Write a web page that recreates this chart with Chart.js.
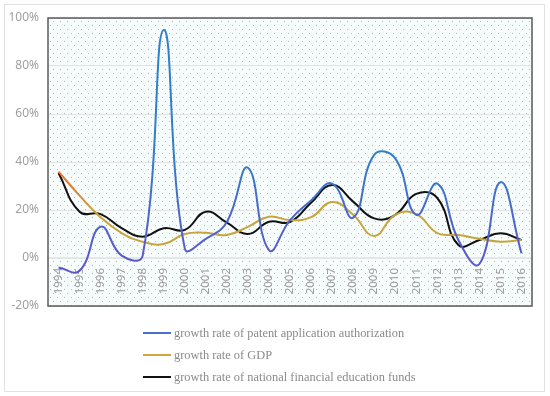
<!DOCTYPE html>
<html>
<head>
<meta charset="utf-8">
<script src="https://cdn.jsdelivr.net/npm/chart.js@4/dist/chart.umd.min.js"></script>
<style>
  html, body { margin: 0; padding: 0; background: #fff; }
  #wrap { position: relative; width: 550px; height: 396px; }
  #frame { position: absolute; left: 4px; top: 4px; width: 541px; height: 388px; border: 1px solid #e2e2e2; box-sizing: border-box; pointer-events: none; }
  #legend { position: absolute; left: 143px; top: 322px; font-family: "Liberation Serif", "DejaVu Serif", serif; font-size: 12.4px; color: #8a8a8a; }
  .li { display: flex; align-items: center; height: 22px; }
  .sw { width: 28px; height: 2px; margin-right: 3px; }
</style>
</head>
<body>
<div id="wrap">
  <canvas id="c" width="550" height="396"></canvas>
  <div id="frame"></div>
  <div id="legend"></div>
</div>
<script>
const years = ["1994","1995","1996","1997","1998","1999","2000","2001","2002","2003","2004","2005","2006","2007","2008","2009","2010","2011","2012","2013","2014","2015","2016"];
const patentGrowth = [-4, -5.3, 13, 1, 1, 95, 4, 8, 15, 37.6, 3.3, 15.8, 24, 31, 16.8, 43, 41.5, 18, 31, 7.5, -2.5, 31.6, 2];
const gdpGrowth = [36, 26, 17, 10.4, 6.8, 5.8, 10, 10.5, 9.6, 13, 17.2, 15.8, 17, 23.3, 18, 9.2, 18, 18.3, 10.4, 9.6, 8, 6.8, 7.5];
const eduFundGrowth = [35.4, 19.3, 18.3, 12.4, 8.9, 12.4, 11.7, 19.3, 14.7, 10, 15.1, 15, 23, 30.4, 23.5, 16.5, 18, 26.7, 25, 5.4, 7.5, 10.3, 7.5];
const yTicks = [-20, 0, 20, 40, 60, 80, 100];
const seriesNames = ["growth rate of patent application authorization", "growth rate of GDP", "growth rate of national financial education funds"];
const legendColors = ["#4f6fcf", "#d2a43c", "#111111"];

function blueGrad(ctx) {
  const ch = ctx.chart; const a = ch.chartArea;
  if (!a) return "#3a7bc8";
  const y = ch.scales.y;
  const g = ch.ctx.createLinearGradient(0, y.getPixelForValue(45), 0, y.getPixelForValue(0));
  g.addColorStop(0, "#2f80c8");
  g.addColorStop(1, "#5c58cc");
  return g;
}
function gdpGrad(ctx) {
  const ch = ctx.chart; const a = ch.chartArea;
  if (!a) return "#c9a33c";
  const x = ch.scales.x;
  const g = ch.ctx.createLinearGradient(x.getPixelForValue(0), 0, x.getPixelForValue(2), 0);
  g.addColorStop(0, "#ee7030");
  g.addColorStop(1, "#c6a63c");
  return g;
}

const bgPlugin = {
  id: "bgPattern",
  beforeDraw(chart) {
    const {ctx, chartArea: a} = chart;
    const t = document.createElement("canvas");
    t.width = 7; t.height = 8;
    const tc = t.getContext("2d");
    tc.fillStyle = "#f7fcfd"; tc.fillRect(0, 0, 7, 8);
    tc.fillStyle = "#8fc3d6";
    tc.fillRect(1, 1, 1, 1);
    tc.fillRect(4, 5, 1, 1);
    ctx.save();
    const pat = ctx.createPattern(t, "repeat");
    ctx.fillStyle = pat;
    ctx.fillRect(a.left, a.top, a.right - a.left, a.bottom - a.top);
    ctx.restore();
  },
  afterDraw(chart) {
    const {ctx, chartArea: a} = chart;
    ctx.save();
    ctx.strokeStyle = "#5a5a5a";
    ctx.lineWidth = 1.5;
    ctx.strokeRect(a.left, a.top, a.right - a.left, a.bottom - a.top);
    ctx.restore();
  }
};

const chart = new Chart(document.getElementById("c"), {
  type: "line",
  data: {
    labels: years,
    datasets: [
      { label: seriesNames[0], data: patentGrowth, borderColor: blueGrad, borderWidth: 2, pointRadius: 0, tension: 0.45, fill: false },
      { label: seriesNames[1], data: gdpGrowth, borderColor: gdpGrad, borderWidth: 2, pointRadius: 0, tension: 0.45, fill: false },
      { label: seriesNames[2], data: eduFundGrowth, borderColor: "#111111", borderWidth: 2, pointRadius: 0, tension: 0.45, fill: false }
    ]
  },
  options: {
    responsive: false,
    animation: false,
    layout: { padding: { left: 0, top: 18, right: 18, bottom: 90 } },
    plugins: { legend: { display: false }, tooltip: { enabled: false } },
    scales: {
      x: {
        position: { y: 0 },
        offset: true,
        grid: { display: false },
        border: { color: "#e6e6e6", width: 2 },
        ticks: { minRotation: 90, maxRotation: 90, autoSkip: false, padding: 2, color: "#9a9a9a", font: { family: "Noto Sans", size: 11.5 } }
      },
      y: {
        min: -20, max: 100,
        afterFit(s) { s.width = 48; },
        afterBuildTicks(s) { s.ticks = yTicks.map(v => ({ value: v })); },
        grid: { color: "#e3e3e3", drawTicks: false },
        border: { display: false },
        ticks: { padding: 9, color: "#a0a0a0", font: { family: "Noto Sans", size: 12 }, callback: v => v + "%" }
      }
    }
  },
  plugins: [bgPlugin]
});

const lg = document.getElementById("legend");
seriesNames.forEach((n, i) => {
  const d = document.createElement("div"); d.className = "li";
  const s = document.createElement("span"); s.className = "sw"; s.style.background = legendColors[i];
  const t = document.createElement("span"); t.textContent = n;
  d.appendChild(s); d.appendChild(t); lg.appendChild(d);
});
</script>
</body>
</html>
